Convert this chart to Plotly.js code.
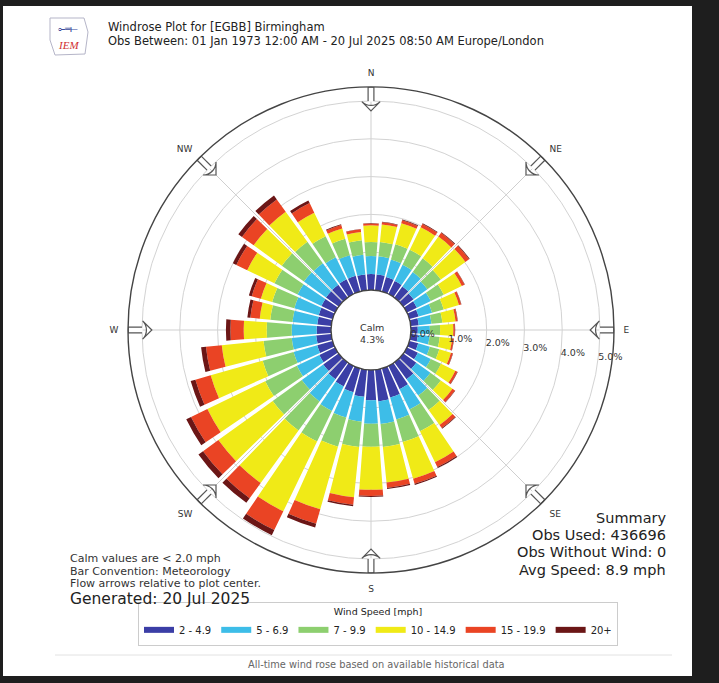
<!DOCTYPE html>
<html>
<head>
<meta charset="utf-8">
<script src="https://cdn.plot.ly/plotly-3.0.1.min.js"></script>
<style>
html,body{margin:0;padding:0;background:#fff;}
#chart{width:719px;height:683px;}
</style>
</head>
<body>
<div id="chart"></div>
<script>
// Direction bins (degrees, meteorological "from")
const directions = [0,10,20,30,40,50,60,70,80,90,100,110,120,130,140,150,160,170,180,190,200,210,220,230,240,250,260,270,280,290,300,310,320,330,340,350];

// Frequency (%) per speed bin for each direction
const spd_2_4_9   = [0.42,0.42,0.40,0.38,0.36,0.33,0.29,0.25,0.21,0.18,0.19,0.24,0.32,0.42,0.55,0.68,0.80,0.84,0.80,0.72,0.65,0.60,0.55,0.50,0.46,0.42,0.40,0.38,0.37,0.38,0.40,0.41,0.42,0.43,0.43,0.42];
const spd_5_6_9   = [0.48,0.48,0.48,0.48,0.47,0.45,0.41,0.37,0.34,0.32,0.31,0.32,0.38,0.46,0.53,0.60,0.60,0.60,0.62,0.66,0.70,0.72,0.72,0.70,0.66,0.65,0.65,0.66,0.66,0.67,0.70,0.72,0.70,0.65,0.57,0.52];
const spd_7_9_9   = [0.37,0.38,0.42,0.44,0.45,0.44,0.38,0.32,0.29,0.27,0.27,0.26,0.30,0.34,0.47,0.64,0.62,0.61,0.61,0.67,0.80,0.90,0.95,0.95,0.93,0.85,0.75,0.66,0.59,0.61,0.68,0.72,0.70,0.62,0.45,0.39];
const spd_10_14_9 = [0.44,0.47,0.58,0.66,0.71,0.80,0.53,0.42,0.35,0.35,0.33,0.32,0.42,0.38,0.49,0.91,1.01,0.95,1.14,1.34,1.72,2.05,1.71,1.77,1.70,1.43,1.11,0.61,0.28,0.31,0.80,0.92,0.98,0.69,0.28,0.22];
const spd_15_19_9 = [0.05,0.06,0.08,0.10,0.12,0.12,0.08,0.06,0.05,0.04,0.04,0.05,0.06,0.08,0.10,0.14,0.14,0.14,0.16,0.20,0.40,0.55,0.50,0.50,0.48,0.42,0.42,0.35,0.25,0.25,0.32,0.38,0.40,0.28,0.10,0.07];
const spd_20_plus = [0.01,0.01,0.02,0.02,0.02,0.02,0.01,0.01,0.01,0.01,0.01,0.01,0.01,0.01,0.02,0.03,0.03,0.03,0.03,0.04,0.10,0.15,0.15,0.15,0.14,0.13,0.13,0.12,0.08,0.08,0.10,0.12,0.13,0.08,0.02,0.01];

const binLabels = ["2 - 4.9","5 - 6.9","7 - 9.9","10 - 14.9","15 - 19.9","20+"];
const binColors = ["#3b3ea6","#3dbde8","#8dcf6f","#f0ea17","#ea4424","#6b1616"];
const calmPct = 4.3;

const compassAngles = [0,45,90,135,180,225,270,315];
const compassLabels = ["N","NE","E","SE","S","SW","W","NW"];
const radialTicks = [0,1,2,3,4,5];
const radialTickText = radialTicks.map(v => v.toFixed(1) + '%');

const W = 719, H = 683;
const px = x => x / W;
const py = y => 1 - y / H;

const series = [spd_2_4_9, spd_5_6_9, spd_7_9_9, spd_10_14_9, spd_15_19_9, spd_20_plus];
const traces = [];
series.forEach((vals, i) => {
  traces.push({
    type: 'barpolar',
    r: vals,
    theta: directions,
    width: directions.map(() => 8.4),
    name: binLabels[i],
    legendgroup: binLabels[i],
    showlegend: false,
    marker: {color: binColors[i], line: {width: 0}},
    hoverinfo: 'skip'
  });
});
// legend entries (wide swatches)
series.forEach((vals, i) => {
  traces.push({
    type: 'scatterpolar',
    mode: 'lines',
    r: [null],
    theta: [null],
    name: binLabels[i],
    legendgroup: binLabels[i],
    showlegend: true,
    line: {color: binColors[i], width: 6},
    hoverinfo: 'skip'
  });
});

// Radial tick labels, placed through the polar scale just right of each ring
traces.push({
  type: 'scatterpolar',
  mode: 'text',
  r: radialTicks,
  theta: radialTicks.map(() => 97),
  text: radialTickText,
  textposition: 'middle right',
  textfont: {size: 9.5, color: '#333'},
  showlegend: false,
  hoverinfo: 'skip'
});

// Flow arrows at compass points: hollow shaft + open head
const shaftR = [], shaftT = [];
compassAngles.forEach(a => { shaftR.push(5.37, 5.0, null); shaftT.push(a, a, null); });
traces.push({type: 'scatterpolar', mode: 'lines', r: shaftR, theta: shaftT, showlegend: false,
  hoverinfo: 'skip', line: {color: '#555', width: 7}});
traces.push({type: 'scatterpolar', mode: 'lines', r: shaftR.map(v => v === null ? null : (v > 5.2 ? 5.35 : 4.98)), theta: shaftT, showlegend: false,
  hoverinfo: 'skip', line: {color: '#ffffff', width: 4.6}});
traces.push({
  type: 'scatterpolar',
  mode: 'markers',
  r: compassAngles.map(() => 4.74),
  theta: compassAngles,
  showlegend: false,
  hoverinfo: 'skip',
  marker: {
    symbol: 'arrow-wide',
    size: 13,
    color: '#ffffff',
    angle: compassAngles.map(a => a + 180),
    line: {color: '#555', width: 1.2}
  }
});

const cx = 371, cy = 330, R = 243;
const layout = {
  width: W, height: H,
  margin: {l: 0, r: 0, t: 0, b: 0},
  paper_bgcolor: '#1e1e1e',
  showlegend: true,
  font: {family: 'DejaVu Sans', color: '#222'},
  polar: {
    domain: {x: [px(cx - R), px(cx + R)], y: [py(cy + R), py(cy - R)]},
    bgcolor: 'rgba(0,0,0,0)',
    hole: 40 / R,
    barmode: 'stack',
    bargap: 0,
    angularaxis: {
      rotation: 90,
      direction: 'clockwise',
      tickmode: 'array',
      tickvals: compassAngles,
      ticktext: compassLabels,
      tickfont: {size: 9, color: '#333'},
      ticks: 'outside',
      ticklen: 7,
      tickcolor: 'rgba(0,0,0,0)',
      showline: true,
      linecolor: '#444',
      linewidth: 1.4,
      showgrid: true,
      gridcolor: '#cfcfcf',
      gridwidth: 1
    },
    radialaxis: {
      range: [0, 5.37],
      angle: -8,
      tickmode: 'array',
      tickvals: radialTicks,
      showticklabels: false,
      ticks: '',
      showline: false,
      showgrid: true,
      gridcolor: '#d3d3d3',
      gridwidth: 1
    }
  },
  legend: {
    orientation: 'h',
    x: px(378), xanchor: 'center',
    y: py(602), yanchor: 'top',
    bgcolor: '#ffffff',
    bordercolor: '#cccccc',
    borderwidth: 1,
    font: {size: 10, color: '#222'},
    title: {text: 'Wind Speed [mph]', side: 'top center', font: {size: 9.5, color: '#222'}},
    traceorder: 'normal',
    itemwidth: 30
  },
  shapes: [
    {type: 'rect', xref: 'paper', yref: 'paper', x0: px(3), x1: px(692), y0: py(676), y1: py(6),
     fillcolor: '#ffffff', line: {width: 0}, layer: 'below'},
    {type: 'line', xref: 'paper', yref: 'paper', x0: px(55), x1: px(672), y0: py(655), y1: py(655),
     line: {color: '#e2e2e2', width: 1}},
    {type: 'path', xref: 'paper', yref: 'paper', layer: 'above',
     path: 'M ' + px(50) + ',' + py(18) + ' L ' + px(84) + ',' + py(18) + ' L ' + px(88) + ',' + py(32) +
           ' L ' + px(85) + ',' + py(54) + ' L ' + px(55) + ',' + py(55) + ' L ' + px(50) + ',' + py(40) + ' Z',
     line: {color: '#b5b5c8', width: 1}, fillcolor: 'rgba(0,0,0,0)'}
  ],
  annotations: [
    {xref: 'paper', yref: 'paper', x: px(106), y: py(27), xanchor: 'left', yanchor: 'middle', showarrow: false,
     text: 'Windrose Plot for [EGBB] Birmingham', font: {size: 11.5, color: '#222'}},
    {xref: 'paper', yref: 'paper', x: px(106), y: py(41), xanchor: 'left', yanchor: 'middle', showarrow: false,
     text: 'Obs Between: 01 Jan 1973 12:00 AM - 20 Jul 2025 08:50 AM Europe/London', font: {size: 11.5, color: '#222'}},
    {xref: 'paper', yref: 'paper', x: px(68), y: py(45), xanchor: 'center', yanchor: 'middle', showarrow: false,
     text: '<i>IEM</i>', font: {family: 'Liberation Serif', size: 11, color: '#d03030'}},
    {xref: 'paper', yref: 'paper', x: px(68), y: py(29), xanchor: 'center', yanchor: 'middle', showarrow: false,
     text: '⟜═⟝', font: {size: 9, color: '#3a4a9a'}},
    {xref: 'paper', yref: 'paper', x: px(cx + 1), y: py(333), xanchor: 'center', yanchor: 'middle', showarrow: false,
     text: 'Calm<br>' + calmPct.toFixed(1) + '%', font: {size: 9.5, color: '#333'}},
    {xref: 'paper', yref: 'paper', x: px(68), y: py(558), xanchor: 'left', yanchor: 'middle', showarrow: false,
     text: 'Calm values are < 2.0 mph', font: {size: 11, color: '#333'}},
    {xref: 'paper', yref: 'paper', x: px(68), y: py(571), xanchor: 'left', yanchor: 'middle', showarrow: false,
     text: 'Bar Convention: Meteorology', font: {size: 11, color: '#333'}},
    {xref: 'paper', yref: 'paper', x: px(68), y: py(583), xanchor: 'left', yanchor: 'middle', showarrow: false,
     text: 'Flow arrows relative to plot center.', font: {size: 11, color: '#333'}},
    {xref: 'paper', yref: 'paper', x: px(68), y: py(599), xanchor: 'left', yanchor: 'middle', showarrow: false,
     text: 'Generated: 20 Jul 2025', font: {size: 15.5, color: '#222'}},
    {xref: 'paper', yref: 'paper', x: px(668), y: py(518), xanchor: 'right', yanchor: 'middle', showarrow: false,
     text: 'Summary', font: {size: 14.5, color: '#222'}},
    {xref: 'paper', yref: 'paper', x: px(668), y: py(535), xanchor: 'right', yanchor: 'middle', showarrow: false,
     text: 'Obs Used: 436696', font: {size: 14.5, color: '#222'}},
    {xref: 'paper', yref: 'paper', x: px(668), y: py(552), xanchor: 'right', yanchor: 'middle', showarrow: false,
     text: 'Obs Without Wind: 0', font: {size: 14.5, color: '#222'}},
    {xref: 'paper', yref: 'paper', x: px(668), y: py(570), xanchor: 'right', yanchor: 'middle', showarrow: false,
     text: 'Avg Speed: 8.9 mph', font: {size: 14.5, color: '#222'}},
    {xref: 'paper', yref: 'paper', x: px(377), y: py(664), xanchor: 'center', yanchor: 'middle', showarrow: false,
     text: 'All-time wind rose based on available historical data', font: {size: 9.8, color: '#666'}}
  ]
};

Plotly.newPlot('chart', traces, layout, {displayModeBar: false, staticPlot: true});
</script>
</body>
</html>
